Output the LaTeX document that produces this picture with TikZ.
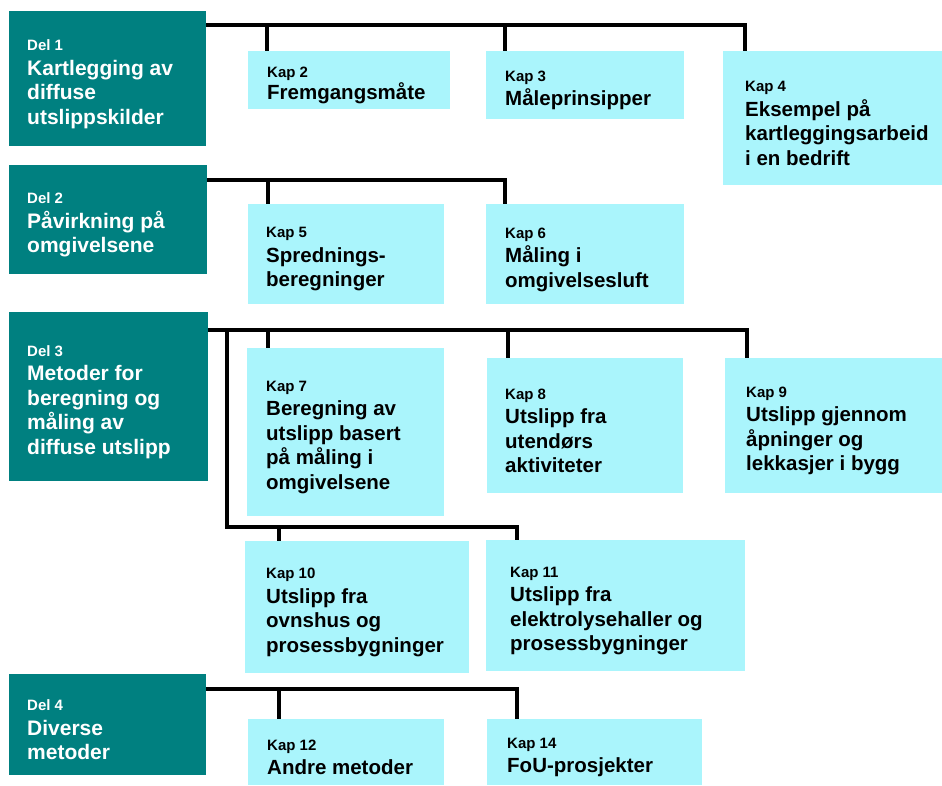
\documentclass[tikz,border=0pt]{standalone}
\usepackage{fontspec}
\setmainfont{Liberation Sans}
\definecolor{delteal}{RGB}{0,128,128}
\definecolor{kapcyan}{RGB}{170,245,252}
\newcommand\kaplabel[1]{{\fontsize{15}{18}\selectfont #1}}
\begin{document}
\begin{tikzpicture}[x=1pt,y=-1pt,
  delbox/.style={fill=delteal,draw=none,anchor=north west,inner sep=0pt,outer sep=0pt},
  kapbox/.style={fill=kapcyan,draw=none,anchor=north west,inner sep=0pt,outer sep=0pt},
  deltext/.style={anchor=west,align=left,inner sep=0pt,yshift=-5.5pt,text=white,font=\fontsize{21}{24.5}\selectfont\bfseries},
  kaptext/.style={anchor=west,align=left,inner sep=0pt,yshift=-5.5pt,text=black,font=\fontsize{20.5}{24.5}\selectfont\bfseries},
  bus/.style={line width=4pt,line join=miter,draw=black}]
\useasboundingbox (0,0) rectangle (942,785);
% Del boxes
\node[delbox,minimum width=197pt,minimum height=135pt] (d1) at (9,11) {};
\node[delbox,minimum width=198pt,minimum height=109pt] (d2) at (9,165) {};
\node[delbox,minimum width=199pt,minimum height=169pt] (d3) at (9,312) {};
\node[delbox,minimum width=197pt,minimum height=101pt] (d4) at (9,674) {};
% Kap boxes
\node[kapbox,minimum width=202pt,minimum height=58pt] (k2) at (248,51) {};
\node[kapbox,minimum width=198pt,minimum height=68pt] (k3) at (486,51) {};
\node[kapbox,minimum width=219pt,minimum height=134pt] (k4) at (723,51) {};
\node[kapbox,minimum width=196pt,minimum height=100pt] (k5) at (248,204) {};
\node[kapbox,minimum width=198pt,minimum height=100pt] (k6) at (486,204) {};
\node[kapbox,minimum width=197pt,minimum height=168pt] (k7) at (247,348) {};
\node[kapbox,minimum width=196pt,minimum height=135pt] (k8) at (487,358) {};
\node[kapbox,minimum width=217pt,minimum height=135pt] (k9) at (725,358) {};
\node[kapbox,minimum width=224pt,minimum height=132pt] (k10) at (245,541) {};
\node[kapbox,minimum width=259pt,minimum height=131pt] (k11) at (486,540) {};
\node[kapbox,minimum width=196pt,minimum height=66pt] (k12) at (248,719) {};
\node[kapbox,minimum width=215pt,minimum height=66pt] (k14) at (487,719) {};
% Texts
\node[deltext] (d1t) at ([xshift=18pt]d1.west) {\kaplabel{Del 1}\\Kartlegging av\\diffuse\\utslippskilder};
\node[deltext] (d2t) at ([xshift=18pt]d2.west) {\kaplabel{Del 2}\\Påvirkning på\\omgivelsene};
\node[deltext] (d3t) at ([xshift=18pt]d3.west) {\kaplabel{Del 3}\\Metoder for\\beregning og\\måling av\\diffuse utslipp};
\node[deltext] (d4t) at ([xshift=18pt]d4.west) {\kaplabel{Del 4}\\Diverse\\metoder};
\node[kaptext] (k2t) at ([xshift=19pt]k2.west) {\kaplabel{Kap 2}\\[-2pt]Fremgangsmåte};
\node[kaptext] (k3t) at ([xshift=19pt]k3.west) {\kaplabel{Kap 3}\\Måleprinsipper};
\node[kaptext] (k4t) at ([xshift=22pt]k4.west) {\kaplabel{Kap 4}\\Eksempel på\\kartleggingsarbeid\\i en bedrift};
\node[kaptext] (k5t) at ([xshift=18pt]k5.west) {\kaplabel{Kap 5}\\Sprednings-\\beregninger};
\node[kaptext] (k6t) at ([xshift=19pt]k6.west) {\kaplabel{Kap 6}\\Måling i\\omgivelsesluft};
\node[kaptext] (k7t) at ([xshift=19pt]k7.west) {\kaplabel{Kap 7}\\Beregning av\\utslipp basert\\på måling i\\omgivelsene};
\node[kaptext] (k8t) at ([xshift=18pt]k8.west) {\kaplabel{Kap 8}\\Utslipp fra\\utendørs\\aktiviteter};
\node[kaptext] (k9t) at ([xshift=21pt]k9.west) {\kaplabel{Kap 9}\\Utslipp gjennom\\åpninger og\\lekkasjer i bygg};
\node[kaptext] (k10t) at ([xshift=21pt]k10.west) {\kaplabel{Kap 10}\\Utslipp fra\\ovnshus og\\prosessbygninger};
\node[kaptext] (k11t) at ([xshift=24pt]k11.west) {\kaplabel{Kap 11}\\Utslipp fra\\elektrolysehaller og\\prosessbygninger};
\node[kaptext] (k12t) at ([xshift=19pt]k12.west) {\kaplabel{Kap 12}\\Andre metoder};
\node[kaptext] (k14t) at ([xshift=20pt]k14.west) {\kaplabel{Kap 14}\\FoU-prosjekter};
% Connectors Del 1
\coordinate (a2) at (267,25);
\coordinate (a3) at (505,25);
\coordinate (a4) at (745,25);
\draw[bus] (d1.east |- a4) -- (a4) -- (a4 |- k4.north);
\draw[bus] (a2) -- (a2 |- k2.north);
\draw[bus] (a3) -- (a3 |- k3.north);
% Del 2
\coordinate (b5) at (268,180);
\coordinate (b6) at (505,180);
\draw[bus] (d2.east |- b6) -- (b6) -- (b6 |- k6.north);
\draw[bus] (b5) -- (b5 |- k5.north);
% Del 3
\coordinate (c7) at (268,330);
\coordinate (c8) at (508,330);
\coordinate (c9) at (747,330);
\draw[bus] (d3.east |- c9) -- (c9) -- (c9 |- k9.north);
\draw[bus] (c7) -- (c7 |- k7.north);
\draw[bus] (c8) -- (c8 |- k8.north);
\coordinate (cb) at (227,330);
\coordinate (cc) at (227,527);
\coordinate (c11) at (517,527);
\coordinate (c10) at (279,527);
\draw[bus] (cb) -- (cc) -- (c11) -- (c11 |- k11.north);
\draw[bus] (c10) -- (c10 |- k10.north);
% Del 4
\coordinate (e12) at (279,689);
\coordinate (e14) at (517,689);
\draw[bus] (d4.east |- e14) -- (e14) -- (e14 |- k14.north);
\draw[bus] (e12) -- (e12 |- k12.north);
\end{tikzpicture}
\end{document}
